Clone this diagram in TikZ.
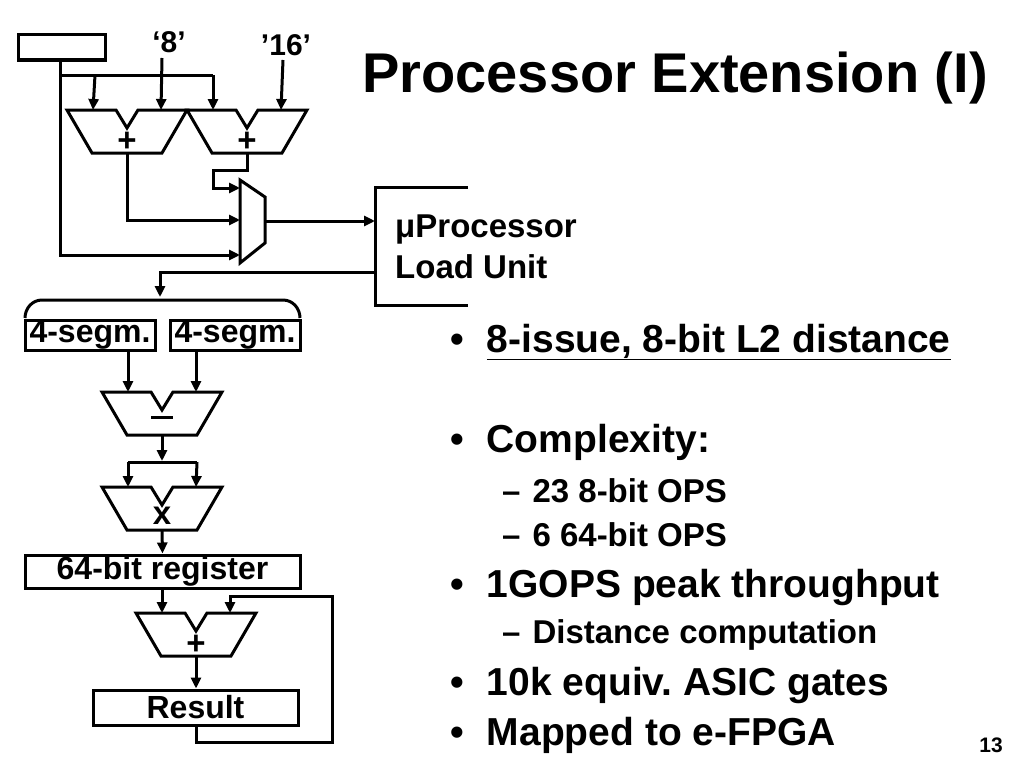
\documentclass[tikz,border=0pt]{standalone}
\usepackage{fontspec}
\setmainfont{Liberation Sans}
\usepackage{tikz}
\usetikzlibrary{calc,positioning,arrows.meta}

% ALU trapezoid with notch: #1 name, #2 centre x, #3 top y
\newcommand{\alublock}[3]{
  \draw[wire] (#2-60,#3) -- (#2-11,#3) -- (#2,#3+18) -- (#2+11,#3) -- (#2+60,#3)
    -- (#2+35,#3+43) -- (#2-35,#3+43) -- cycle;
  \coordinate (#1-l) at (#2-34,#3);
  \coordinate (#1-r) at (#2+34,#3);
  \coordinate (#1-o) at (#2,#3+43);
  \coordinate (#1-s) at (#2,#3+32);
}

\begin{document}
\begin{tikzpicture}[x=1pt,y=-1pt,
    wire/.style={line width=3pt,line join=miter},
    arr/.style={wire,-{Triangle[length=11pt,width=10pt]}},
    reg/.style={draw,line width=3pt,inner sep=0pt,font=\bfseries\fontsize{32}{32}\selectfont},
    lab/.style={font=\bfseries\fontsize{33}{33}\selectfont,inner sep=0pt},
    bul/.style={anchor=base west,inner sep=0pt,font=\bfseries\fontsize{39}{39}\selectfont},
    sub/.style={anchor=base west,inner sep=0pt,font=\bfseries\fontsize{33}{33}\selectfont}]
  \useasboundingbox (0,0) rectangle (1024,768);

  % title
  \node[font=\bfseries\fontsize{56}{56}\selectfont,inner sep=0pt] (title) at (675,78) {Processor Extension (I)};

  % top part: address generation
  \node[reg,minimum width=87pt,minimum height=25pt] (base) at (61.5,47.5) {};
  \node[lab,font=\bfseries\fontsize{30}{30}\selectfont] (c8) at (169,42) {‘8’};
  \node[lab,font=\bfseries\fontsize{30}{30}\selectfont] (c16) at (286,45) {’16’};
  \alublock{addA}{127}{110}
  \alublock{addB}{247}{110}
  \node[lab] (plusA) at (addA-s) {+};
  \node[lab] (plusB) at (addB-s) {+};

  \coordinate (bs) at (60,60);
  \coordinate (c8s) at (162,58);
  \coordinate (c16s) at (283,60);
  \draw[wire] (bs) -- (60,75) -- (213,75);
  \draw[arr] (95,75) -- (addA-l);
  \draw[arr] (c8s) -- (addA-r);
  \draw[arr] (213,75) -- (addB-l);
  \draw[arr] (c16s) -- (addB-r);

  % mux
  \draw[wire] (240,180) -- (265,197) -- (265,243) -- (240,263) -- cycle;
  \coordinate (mux-a) at (240,188);
  \coordinate (mux-b) at (240,220);
  \coordinate (mux-c) at (240,255);
  \coordinate (mux-o) at (265,221);
  \draw[arr] (addB-o) -- (247,170) -- (213,170) -- (213,188) -- (mux-a);
  \draw[arr] (addA-o) |- (mux-b);
  \draw[arr] (bs) -- (60,255) -- (mux-c);

  % load unit
  \draw[wire] (468,187) -- (375,187) -- (375,305) -- (468,305);
  \coordinate (lu-i) at (375,221);
  \coordinate (lu-o) at (375,272);
  \node[lab,anchor=base west] (lu1) at (395,237) {μProcessor};
  \node[lab,anchor=base west] (lu2) at (395,278) {Load Unit};
  \draw[arr] (mux-o) -- (lu-i);

  % brace and segments
  \draw[wire] (25,318) to[out=90,in=180] (42,300) -- (283,300) to[out=0,in=90] (300,318);
  \draw[arr] (lu-o) -- (160,272) -- (160,297);
  \node[reg,minimum width=130pt,minimum height=30pt] (segA) at (90,335) {4-segm.};
  \node[reg,minimum width=130pt,minimum height=30pt] (segB) at (235,335) {4-segm.};

  % distance datapath
  \alublock{subt}{162}{392}
  \node[lab] (minus) at (162,417) {\rule{22pt}{3pt}};
  \draw[arr] (segA.south -| subt-l) -- (subt-l);
  \draw[arr] (segB.south -| subt-r) -- (subt-r);
  \alublock{mult}{162}{487}
  \node[lab] (times) at (162,516) {x};
  \draw[arr] (subt-o) -- (162,461);
  \draw[wire] (128,462) -- (197,462);
  \draw[arr] (128,462) -- (mult-l);
  \draw[arr] (197,462) -- (mult-r);

  \node[reg,minimum width=275pt,minimum height=33pt] (acc) at (162.5,571.5) {64-bit register};
  \draw[arr] (mult-o) -- (acc.north);

  \alublock{addC}{196}{613}
  \node[lab] (plusC) at (addC-s) {+};
  \draw[arr] (acc.south -| addC-l) -- (addC-l);
  \node[reg,minimum width=205pt,minimum height=35pt] (res) at (195.5,707.5) {Result};
  \draw[arr] (addC-o) -- (res.north -| addC-o);
  \draw[arr] (res.south -| addC-o) -- (196,742) -- (332,742) -- (332,596) -- (230,596) -- (addC-r);

  % bullets
  \node[bul] (b1) at (450,352) {•\hspace{23pt}\underline{8-issue, 8-bit L2 distance}};
  \node[bul] (b2) at (450,452) {•\hspace{23pt}Complexity:};
  \node[sub] (s1) at (502,502) {–\hspace{12pt}23 8-bit OPS};
  \node[sub] (s2) at (502,546) {–\hspace{12pt}6 64-bit OPS};
  \node[bul] (b3) at (450,597) {•\hspace{23pt}1GOPS peak throughput};
  \node[sub] (s3) at (502,643) {–\hspace{12pt}Distance computation};
  \node[bul] (b4) at (450,695) {•\hspace{23pt}10k equiv.\ ASIC gates};
  \node[bul] (b5) at (450,745) {•\hspace{23pt}Mapped to e-FPGA};
  \node[font=\bfseries\fontsize{21}{21}\selectfont,inner sep=0pt] (pg) at (991,745) {13};
\end{tikzpicture}
\end{document}
